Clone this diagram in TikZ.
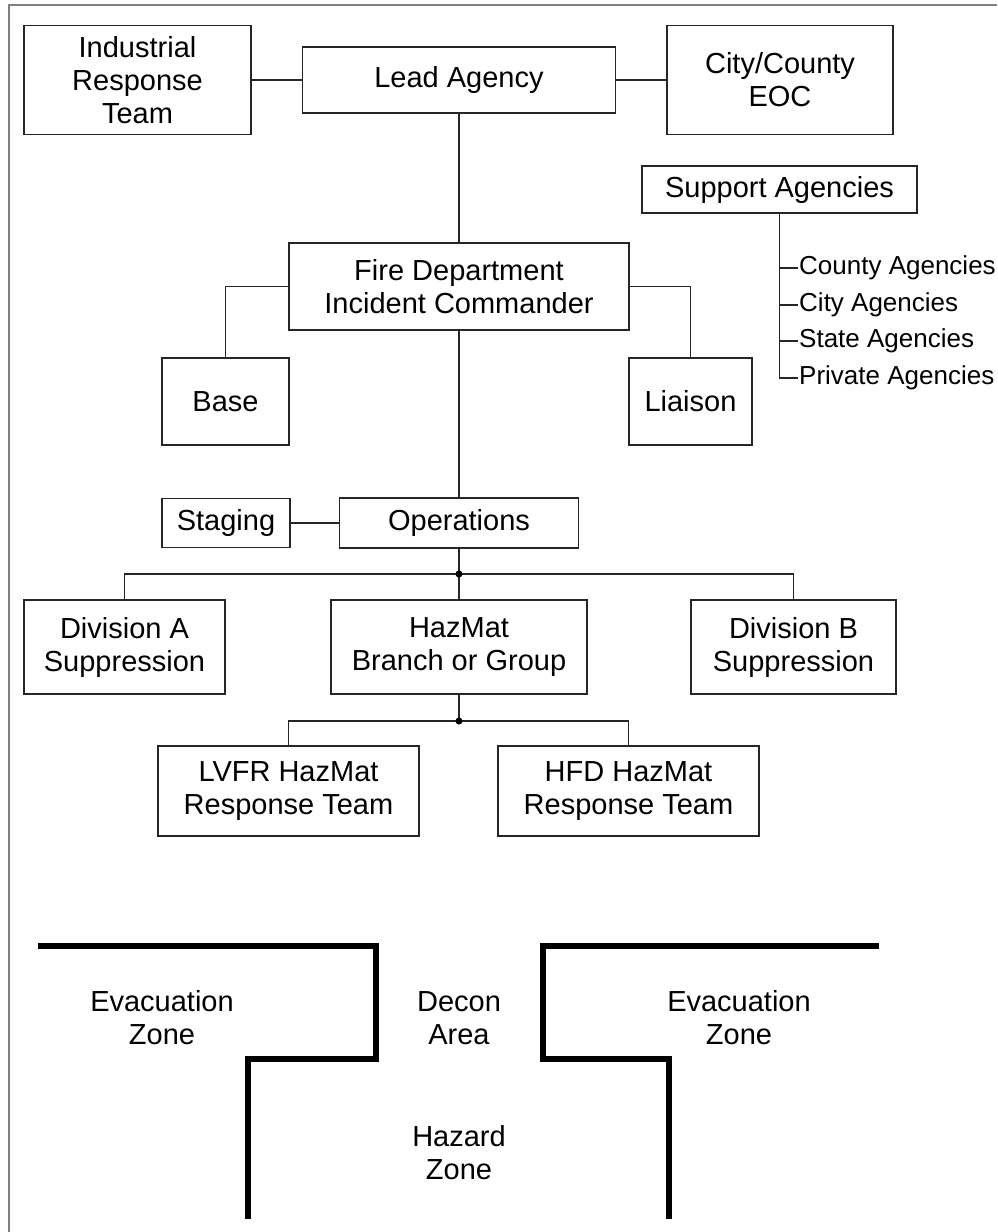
\documentclass[tikz,border=0pt]{standalone}
\usepackage{fontspec}
\setmainfont{Liberation Sans}
\usepackage{tikz}

\tikzset{
    orgbox/.style={draw=black!85, line width=1.8pt, inner sep=0pt, align=center,
        font=\fontsize{29}{33}\selectfont},
    orgline/.style={draw=black!85, line width=1.8pt},
    listitem/.style={anchor=west, inner sep=1pt, font=\fontsize{26}{30}\selectfont},
    zoneline/.style={line width=5.5pt, line cap=rect},
    zonetext/.style={align=center, font=\fontsize{29}{33}\selectfont}
}

\begin{document}
\begin{tikzpicture}[x=1pt,y=-1pt]
            \useasboundingbox (0,0) rectangle (997,1232);
            \draw[gray, line width=1.5pt] (997,5) -- (9,5) -- (9,1232);

            \node[orgbox, minimum width=227pt, minimum height=109pt] (ind) at (137.5,80) {Industrial\\Response\\Team};
            \node[orgbox, minimum width=313pt, minimum height=66pt] (lead) at (459,80) {Lead Agency};
            \node[orgbox, minimum width=226pt, minimum height=109pt] (eoc) at (780,80) {City/County\\EOC};
            \node[orgbox, minimum width=275pt, minimum height=47pt] (support) at (779.5,189.5) {Support Agencies};

            \node[listitem] (cnty) at (798,268) {County Agencies};
            \node[listitem] (city) at (798,305) {City Agencies};
            \node[listitem] (state) at (798,341) {State Agencies};
            \node[listitem] (priv) at (798,378) {Private Agencies};

            \node[orgbox, minimum width=340pt, minimum height=87pt] (fire) at (459,286.5) {Fire Department\\Incident Commander};
            \node[orgbox, minimum width=127pt, minimum height=87pt] (base) at (225.5,401.5) {Base};
            \node[orgbox, minimum width=123pt, minimum height=87pt] (liaison) at (690.5,401.5) {Liaison};

            \node[orgbox, minimum width=128pt, minimum height=49pt] (staging) at (226,523) {Staging};
            \node[orgbox, minimum width=239pt, minimum height=50pt] (ops) at (459,523) {Operations};

            \node[orgbox, minimum width=201pt, minimum height=94pt] (divA) at (124.5,647) {Division A\\Suppression};
            \node[orgbox, minimum width=256pt, minimum height=94pt] (hazmat) at (459,647) {HazMat\\Branch or Group};
            \node[orgbox, minimum width=205pt, minimum height=94pt] (divB) at (793.5,647) {Division B\\Suppression};

            \node[orgbox, minimum width=261pt, minimum height=90pt] (lvfr) at (288.5,791) {LVFR HazMat\\Response Team};
            \node[orgbox, minimum width=261pt, minimum height=90pt] (hfd) at (628.5,791) {HFD HazMat\\Response Team};

            \coordinate (opsjoin) at (459,574);
            \coordinate (hmjoin) at (459,721);

            % connectors
            \draw[orgline] (ind.east) -- (lead.west);
            \draw[orgline] (lead.east) -- (eoc.west);
            \draw[orgline] (lead.south) -- (fire.north);
            \draw[orgline] (support.south) |- (priv.west);
            \draw[orgline] (support.south |- cnty.west) -- (cnty.west);
            \draw[orgline] (support.south |- city.west) -- (city.west);
            \draw[orgline] (support.south |- state.west) -- (state.west);
            \draw[orgline] (fire.west) -| (base.north);
            \draw[orgline] (fire.east) -| (liaison.north);
            \draw[orgline] (fire.south) -- (ops.north);
            \draw[orgline] (staging.east) -- (ops.west);
            \draw[orgline] (ops.south) -- (opsjoin);
            \draw[orgline] (opsjoin) -| (divA.north);
            \draw[orgline] (opsjoin) -- (hazmat.north);
            \draw[orgline] (opsjoin) -| (divB.north);
            \draw[orgline] (hazmat.south) -- (hmjoin);
            \draw[orgline] (hmjoin) -| (lvfr.north);
            \draw[orgline] (hmjoin) -| (hfd.north);
            \fill (opsjoin) circle (3.5pt);
            \fill (hmjoin) circle (3.5pt);

            % zones
            \draw[zoneline] (41,946) -- (376,946) -- (376,1059) -- (248,1059) -- (248,1216);
            \draw[zoneline] (876,946) -- (543,946) -- (543,1059) -- (669,1059) -- (669,1216);

            \node[zonetext] (evacL) at (162,1018) {Evacuation\\Zone};
            \node[zonetext] (decon) at (459,1018) {Decon\\Area};
            \node[zonetext] (evacR) at (739,1018) {Evacuation\\Zone};
            \node[zonetext] (hazard) at (459,1153) {Hazard\\Zone};
        \end{tikzpicture}
\end{document}
